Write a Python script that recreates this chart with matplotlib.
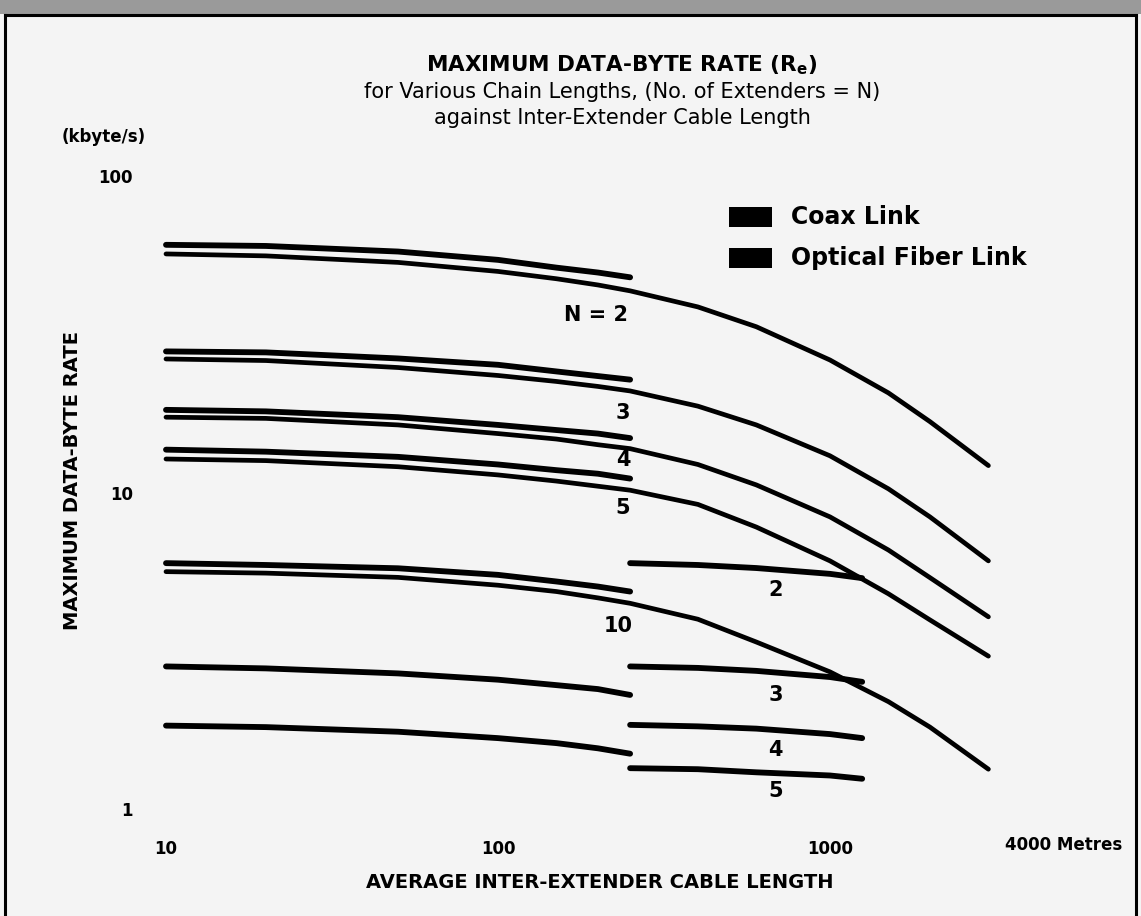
import matplotlib.pyplot as plt
from matplotlib.patches import Rectangle
from matplotlib.lines import Line2D

plt.rcParams['font.family'] = ['DejaVu Sans']

# cable lengths (m)
len_coax = [10, 20, 50, 100, 150, 200, 250]
len_fiber = [10, 20, 50, 100, 150, 200, 250, 400, 600, 1000, 1500, 2000, 3000]
len_short = [250, 400, 600, 1000, 1250]

# max data-byte rate (kbyte/s)
coax_n2 = [60.8, 60.3, 57.9, 54.5, 51.5, 49.7, 48.0]
fiber_n2 = [56.9, 56.1, 53.5, 50.1, 47.5, 45.4, 43.5, 38.7, 33.5, 26.3, 20.7, 16.8, 12.2]
coax_n3 = [28.0, 27.8, 26.6, 25.4, 24.2, 23.4, 22.8]
fiber_n3 = [26.5, 26.2, 24.9, 23.5, 22.5, 21.7, 21.0, 18.8, 16.4, 13.1, 10.3, 8.4, 6.1]
coax_n4 = [18.3, 18.1, 17.35, 16.4, 15.8, 15.4, 14.9]
fiber_n4 = [17.35, 17.2, 16.4, 15.4, 14.8, 14.2, 13.8, 12.3, 10.6, 8.4, 6.6, 5.4, 4.06]
coax_n5 = [13.7, 13.5, 13.0, 12.3, 11.8, 11.5, 11.1]
fiber_n5 = [12.8, 12.65, 12.1, 11.4, 10.9, 10.5, 10.2, 9.2, 7.8, 6.1, 4.8, 3.97, 3.05]
coax_n10 = [6.0, 5.92, 5.78, 5.51, 5.25, 5.06, 4.88]
fiber_n10 = [5.64, 5.58, 5.41, 5.11, 4.88, 4.66, 4.48, 3.99, 3.38, 2.72, 2.19, 1.82, 1.34]
low_a = [2.83, 2.79, 2.69, 2.57, 2.47, 2.40, 2.30]
low_b = [1.84, 1.82, 1.76, 1.68, 1.62, 1.56, 1.50]
seg_2 = [6.0, 5.92, 5.79, 5.55, 5.38]
seg_3 = [2.83, 2.80, 2.74, 2.62, 2.53]
seg_4 = [1.85, 1.83, 1.80, 1.73, 1.68]
seg_5 = [1.35, 1.34, 1.31, 1.28, 1.25]

# curve labels: (text, length, rate)
labels = [("N = 2", 197, 36.5), ("3", 238, 17.9), ("4", 238, 12.7), ("5", 238, 8.97),
          ("10", 230, 3.8), ("2", 687, 4.94), ("3", 687, 2.30), ("4", 687, 1.54), ("5", 687, 1.14)]

W, H = 1141, 916
bg = '#f4f4f4'
fig = plt.figure(figsize=(W / 100, H / 100), dpi=100, facecolor=bg)

# scan frame
fig.patches.append(Rectangle((0, 1 - 14 / H), 1, 14 / H, transform=fig.transFigure,
                             facecolor='#9a9a9a', edgecolor='none'))
for xs, ys in [([5, 1136], [15, 15]), ([5, 5], [15, 916]), ([1136, 1136], [15, 916])]:
    fig.add_artist(Line2D([x / W for x in xs], [1 - y / H for y in ys],
                          transform=fig.transFigure, color='black', lw=2.2))

ax = fig.add_axes([140 / W, 1 - 830 / H, 990 / W, 680 / H])
ax.set_xscale('log')
ax.set_yscale('log')
ax.set_xlim(8.35, 8010)
ax.set_ylim(0.861, 121.2)
for s in ax.spines.values():
    s.set_visible(False)
ax.patch.set_alpha(0)

lw_c, lw_f = 4.2, 3.4
for c in [coax_n2, coax_n3, coax_n4, coax_n5, coax_n10, low_a, low_b]:
    ax.plot(len_coax, c, color='black', lw=lw_c, solid_capstyle='round', solid_joinstyle='round')
for f in [fiber_n2, fiber_n3, fiber_n4, fiber_n5, fiber_n10]:
    ax.plot(len_fiber, f, color='black', lw=lw_f, solid_capstyle='round', solid_joinstyle='round')
for s in [seg_2, seg_3, seg_4, seg_5]:
    ax.plot(len_short, s, color='black', lw=lw_c, solid_capstyle='round', solid_joinstyle='round')

for txt, x, y in labels:
    ax.text(x, y, txt, fontsize=15, fontweight='bold', ha='center', va='center')

ax.set_xticks([10, 100, 1000])
ax.set_xticklabels(['10', '100', '1000'], fontweight='bold')
ax.set_yticks([1, 10, 100])
ax.set_yticklabels(['1', '10', '100'], fontweight='bold')
ax.minorticks_off()
ax.tick_params(axis='both', length=0, labelsize=12)
ax.tick_params(axis='x', pad=7)
ax.tick_params(axis='y', pad=5)

fig.text(1005 / W, 1 - 845 / H, '4000 Metres', ha='left', va='center', fontsize=12, fontweight='bold')
fig.text(600 / W, 1 - 883 / H, 'AVERAGE INTER-EXTENDER CABLE LENGTH', ha='center', va='center',
         fontsize=14, fontweight='bold')
fig.text(73 / W, 1 - 481 / H, 'MAXIMUM DATA-BYTE RATE', ha='center', va='center', fontsize=14,
         fontweight='bold', rotation=90)

fig.text(622 / W, 1 - 65 / H, 'MAXIMUM DATA-BYTE RATE (R$_\\mathbf{e}$)', ha='center', va='center',
         fontsize=15.5, fontweight='bold')
fig.text(622 / W, 1 - 92 / H, 'for Various Chain Lengths, (No. of Extenders = N)', ha='center', va='center', fontsize=15)
fig.text(622 / W, 1 - 118 / H, 'against Inter-Extender Cable Length', ha='center', va='center', fontsize=15)
fig.text(104 / W, 1 - 137 / H, '(kbyte/s)', ha='center', va='center', fontsize=12, fontweight='bold')

# legend
for yy, txt in [(217, 'Coax Link'), (258, 'Optical Fiber Link')]:
    fig.patches.append(Rectangle((729 / W, 1 - (yy + 10) / H), 43 / W, 20 / H,
                                 transform=fig.transFigure, facecolor='black'))
    fig.text(791 / W, 1 - yy / H, txt, ha='left', va='center', fontsize=17, fontweight='bold')

fig.savefig('out.png', dpi=100, facecolor=bg)
